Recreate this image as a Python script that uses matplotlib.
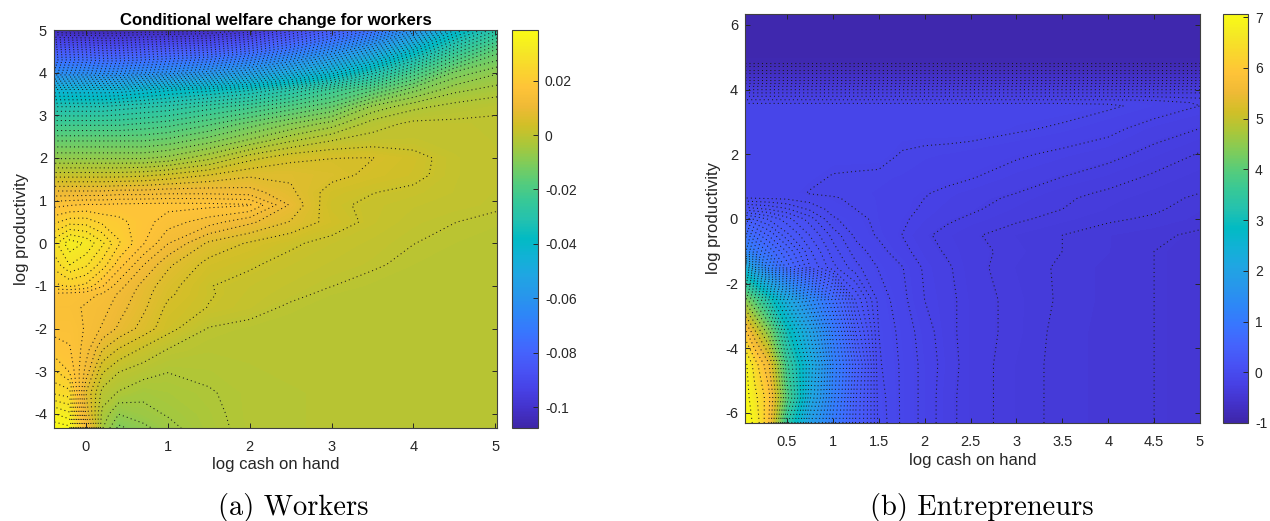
import numpy as np
import matplotlib
matplotlib.use("Agg")
import matplotlib.pyplot as plt
from matplotlib.colors import LinearSegmentedColormap, Normalize
from matplotlib.cm import ScalarMappable

plt.rcParams["font.family"] = ["Liberation Sans", "DejaVu Sans"]
plt.rcParams["axes.unicode_minus"] = False
plt.rcParams["axes.linewidth"] = 0.8

# parula colours
parula_rows = [
    [.2422, .1504, .6603], [.2647, .1978, .7952], [.2783, .2559, .8991], [.2810, .3228, .9579],
    [.2699, .3892, .9906], [.2206, .4603, .9973], [.1786, .5289, .9682], [.1540, .5902, .9218],
    [.1248, .6459, .8883], [.0689, .6948, .8394], [.0067, .7312, .7660], [.1408, .7584, .6842],
    [.2161, .7843, .5923], [.3406, .8008, .4789], [.5044, .7993, .3480], [.6720, .7793, .2227],
    [.8203, .7498, .1535], [.9393, .7288, .2100], [.9970, .7659, .2199], [.9786, .8386, .1766],
    [.9597, .9135, .1423], [.9769, .9839, .0805],
]

# workers panel, values in 1/1000
workers_x = [-0.39, -0.2, 0, 0.2, 0.4, 0.7, 1, 1.5, 2, 2.5, 3, 3.5, 4, 4.5, 5.02]
workers_y = [-4.33, -4, -3.5, -3, -2.5, -2, -1.5, -1.2, -1, -0.5, 0, 0.5, 0.9, 1.2, 1.6, 2, 2.4, 2.8, 3.2, 3.6, 4, 4.5, 5]
workers_z = [
    [38, 37, 14, -5, -10.8, -8.5, -6, -3.6, -2, -1.6, -1.5, -1.5, -1.5, -1.5, -1.5],
    [34, 32, 9, -3.5, -7.6, -6, -5, -3.4, -1.9, -1.6, -1.5, -1.5, -1.5, -1.5, -1.5],
    [26, 25, 7, -1.2, -3, -4.6, -3.9, -3, -1.9, -1.6, -1.5, -1.5, -1.5, -1.5, -1.5],
    [22, 19, 11, 2.5, -0.2, -1.6, -2.7, -2.2, -1.6, -1.5, -1.5, -1.5, -1.5, -1.5, -1.5],
    [18, 17, 13, 7, 4.2, 1.5, -0.5, -1.5, -1.5, -1.5, -1.5, -1.5, -1.5, -1.5, -1.5],
    [16, 16, 14, 11.5, 9, 6, 3, -0.5, -1.2, -1.5, -1.5, -1.5, -1.5, -1.5, -1.5],
    [15, 15, 14, 13, 10.5, 7.5, 4, 2, 0.8, -0.8, -1.5, -1.5, -1.5, -1.5, -1.5],
    [16, 15.5, 15, 14, 11.5, 8, 5, 2.3, 1.1, 0.3, -1, -1.3, -1.5, -1.5, -1.5],
    [21, 22, 21, 17, 13, 8.5, 5.5, 2.2, 1.3, 0.6, -0.3, -1.2, -1.4, -1.5, -1.5],
    [25, 29, 27, 23, 18, 12, 7.5, 3.6, 2.4, 1.3, 0.6, 0, -1, -1.3, -1.5],
    [28, 33, 31, 27, 22, 17, 12, 6.5, 4.2, 2.5, 1.3, 0.5, -0.3, -1, -1.4],
    [21, 23, 23, 21, 20, 17.8, 15.5, 13, 10, 6.8, 3.5, 1.4, 0.3, -0.3, -0.9],
    [16, 16.5, 17, 17, 17.3, 17.5, 17.6, 17.5, 17, 9, 2.7, 1.5, 0.8, 0.4, 0],
    [10, 10, 10, 10, 10.5, 10.5, 11, 11, 10.5, 7.5, 3.4, 2.2, 1.5, 0.7, 0.1],
    [1, 1, 1, 1, 1, 1.5, 2.5, 4.5, 6.5, 6.5, 5.4, 3.9, 2.9, 0.8, 0.2],
    [-8, -8, -8, -8, -8, -8, -7, -3.5, 1.2, 3.8, 4.5, 4.6, 3.2, 0.8, 0.2],
    [-15, -15, -15, -15, -15, -15, -14, -11, -7, -3, -0.3, 0.8, 0.8, 0.5, 0.1],
    [-23, -23, -23, -23, -23, -22, -21, -18, -14, -10, -6.5, -1.5, 0.3, 0.2, 0.1],
    [-32, -32, -32, -32, -31, -30, -29, -26, -23, -19, -15, -7, -3.5, -1.8, -0.8],
    [-44, -44, -44, -44, -44, -42, -40, -38, -35, -30, -24, -18, -11, -6, -4.2],
    [-64, -64, -64, -65, -65, -64, -63, -60, -56, -50, -43, -33, -22, -12, -8],
    [-84, -84, -84, -85, -85, -84, -83, -82, -78, -72, -64, -54, -40, -26, -16],
    [-105, -106, -106, -106, -106, -105, -105, -104, -100, -92, -84, -76, -62, -42, -30],
]
workers_xticks = [0, 1, 2, 3, 4, 5]
workers_yticks = [-4, -3, -2, -1, 0, 1, 2, 3, 4, 5]
workers_cticks = [-0.1, -0.08, -0.06, -0.04, -0.02, 0, 0.02]
workers_clabels = ["-0.1", "-0.08", "-0.06", "-0.04", "-0.02", "0", "0.02"]

# entrepreneurs panel
entre_x = [0.043, 0.15, 0.3, 0.5, 0.75, 1, 1.25, 1.5, 1.75, 2, 2.25, 2.5, 3, 3.5, 4, 4.5, 5]
entre_y = [-6.31, -5.5, -4.5, -3.5, -2.5, -1.5, -1, -0.5, 0, 0.3, 0.65, 0.8, 1.3, 2, 2.8, 3.5, 3.6, 3.9, 4.2, 4.5, 4.85, 5.2, 6.34]
entre_z = [
    [7.05, 6.8, 5.8, 3.4, 1.9, 1.05, .42, 0, -.11, -.18, -.26, -.31, -.37, -.42, -.44, -.46, -.47],
    [7.05, 6.6, 5.9, 3.9, 2.2, 1.15, .44, -.01, -.11, -.18, -.26, -.31, -.37, -.42, -.44, -.46, -.47],
    [7.0, 6.3, 5.5, 3.6, 2.3, 1.2, .5, -.03, -.11, -.18, -.25, -.31, -.37, -.42, -.44, -.46, -.47],
    [5.9, 5.2, 4.4, 3.0, 2.0, 1.05, .35, -.04, -.12, -.19, -.26, -.31, -.36, -.42, -.44, -.46, -.47],
    [4.4, 3.9, 3.1, 2.2, 1.4, .75, .2, -.06, -.14, -.22, -.26, -.31, -.36, -.41, -.44, -.46, -.47],
    [2.4, 1.75, 1.15, .65, .28, .1, -.02, -.105, -.155, -.23, -.27, -.32, -.37, -.41, -.44, -.46, -.47],
    [1.3, 1.0, .75, .5, .22, .05, -.07, -.135, -.2, -.25, -.29, -.32, -.36, -.4, -.43, -.46, -.47],
    [.85, .65, .5, .3, .14, 0, -.115, -.17, -.22, -.27, -.3, -.33, -.37, -.4, -.43, -.45, -.47],
    [.38, .34, .27, .17, .05, -.09, -.135, -.18, -.21, -.24, -.27, -.29, -.33, -.36, -.39, -.41, -.44],
    [.12, .1, .08, .03, -.05, -.125, -.16, -.18, -.2, -.23, -.25, -.27, -.31, -.34, -.37, -.39, -.43],
    [-.1, -.105, -.11, -.115, -.135, -.155, -.17, -.18, -.2, -.22, -.24, -.26, -.29, -.33, -.36, -.38, -.41],
    [-.13, -.13, -.13, -.13, -.165, -.17, -.175, -.18, -.195, -.215, -.235, -.25, -.28, -.32, -.35, -.375, -.4],
    [-.13, -.13, -.13, -.13, -.14, -.165, -.17, -.175, -.18, -.19, -.2, -.215, -.25, -.28, -.31, -.35, -.38],
    [-.13, -.13, -.13, -.13, -.13, -.13, -.13, -.13, -.165, -.175, -.18, -.19, -.21, -.235, -.26, -.3, -.345],
    [-.13, -.13, -.13, -.13, -.13, -.13, -.13, -.13, -.13, -.13, -.13, -.13, -.15, -.17, -.2, -.25, -.28],
    [-.13, -.13, -.13, -.13, -.13, -.13, -.13, -.13, -.13, -.13, -.13, -.13, -.13, -.13, -.15, -.18, -.22],
    [-.17, -.17, -.17, -.17, -.17, -.17, -.17, -.17, -.17, -.17, -.17, -.17, -.17, -.17, -.17, -.185, -.23],
    [-.34, -.34, -.34, -.34, -.34, -.34, -.34, -.34, -.34, -.34, -.34, -.34, -.34, -.34, -.34, -.34, -.34],
    [-.52, -.52, -.52, -.52, -.52, -.52, -.52, -.52, -.52, -.52, -.52, -.52, -.52, -.52, -.52, -.52, -.52],
    [-.7, -.7, -.7, -.7, -.7, -.7, -.7, -.7, -.7, -.7, -.7, -.7, -.7, -.7, -.7, -.7, -.7],
    [-.89, -.89, -.89, -.89, -.89, -.89, -.89, -.89, -.89, -.89, -.89, -.89, -.89, -.89, -.89, -.89, -.89],
    [-.93, -.93, -.93, -.93, -.93, -.93, -.93, -.93, -.93, -.93, -.93, -.93, -.93, -.93, -.93, -.93, -.93],
    [-.93, -.93, -.93, -.93, -.93, -.93, -.93, -.93, -.93, -.93, -.93, -.93, -.93, -.93, -.93, -.93, -.93],
]
entre_xticks = [0.5, 1, 1.5, 2, 2.5, 3, 3.5, 4, 4.5, 5]
entre_xlabels = ["0.5", "1", "1.5", "2", "2.5", "3", "3.5", "4", "4.5", "5"]
entre_yticks = [-6, -4, -2, 0, 2, 4, 6]
entre_cticks = [-1, 0, 1, 2, 3, 4, 5, 6, 7]

W, H = 1270, 521
parula = LinearSegmentedColormap.from_list("parula", parula_rows, N=256)


def box(left, top, right, bottom):
    # pixel box to figure fractions
    return [left / W, 1 - bottom / H, (right - left) / W, (bottom - top) / H]


def panel(pos, cpos, x, y, z, vmin, vmax, line_levels):
    ax = fig.add_axes(box(*pos))
    fill_levels = np.linspace(vmin, vmax, 256)
    ax.contourf(x, y, z, levels=fill_levels, cmap=parula, vmin=vmin, vmax=vmax, antialiased=False)
    ax.contour(x, y, z, levels=line_levels, colors="#1a1a1a", linewidths=0.75, linestyles=[(0, (1, 3))])
    ax.tick_params(direction="in", top=True, right=True, length=3.5, width=0.7,
                   labelsize=10.5, colors="#262626", pad=5)
    ax.tick_params(axis="x", pad=8.6)
    for s in ax.spines.values():
        s.set_color("#404040")
    cax = fig.add_axes(box(*cpos))
    cb = fig.colorbar(ScalarMappable(Normalize(vmin, vmax), parula), cax=cax)
    cb.outline.set_edgecolor("#404040")
    cb.outline.set_linewidth(0.8)
    cax.tick_params(direction="in", length=3.5, width=0.7, labelsize=10, colors="#262626", pad=5)
    return ax, cb


fig = plt.figure(figsize=(W / 100, H / 100), dpi=100)

ax1, cb1 = panel((54, 30, 497, 428), (512, 30, 538, 428), workers_x, workers_y,
                 np.array(workers_z) / 1000, -0.1077, 0.0386, np.arange(-0.1077, 0.0386, 0.00244))
ax1.set_xlim(-0.39, 5.02)
ax1.set_ylim(-4.33, 5.0)
ax1.set_xticks(workers_xticks)
ax1.set_yticks(workers_yticks)
ax1.set_xlabel("log cash on hand", fontsize=12, color="#262626", labelpad=2.5)
ax1.set_ylabel("log productivity", fontsize=12, color="#262626", labelpad=3.5)
ax1.set_title("Conditional welfare change for workers", fontsize=12.1, fontweight="bold", pad=3.5)
cb1.set_ticks(workers_cticks, labels=workers_clabels)

# levels get wider apart towards the high values
entre_levels = list(np.arange(-1.0, 0.1, 0.06))
while entre_levels[-1] < 7.0:
    entre_levels.append(entre_levels[-1] + 0.06 * 1.05 ** (len(entre_levels) - 18))

ax2, cb2 = panel((745, 14, 1200, 423), (1223, 14, 1248, 423), entre_x, entre_y,
                 np.array(entre_z), -1.0, 7.06, entre_levels)
ax2.set_xlim(0.043, 5.0)
ax2.set_ylim(-6.31, 6.34)
ax2.set_xticks(entre_xticks, labels=entre_xlabels)
ax2.set_yticks(entre_yticks)
ax2.set_xlabel("log cash on hand", fontsize=12, color="#262626", labelpad=3)
ax2.set_ylabel("log productivity", fontsize=12, color="#262626", labelpad=3)
cb2.set_ticks(entre_cticks)

fig.text(293 / W, 1 - 507 / H, "(a) Workers", family="cmr10", fontsize=20.5, ha="center", va="center")
fig.text(982 / W, 1 - 507 / H, "(b) Entrepreneurs", family="cmr10", fontsize=20.5, ha="center", va="center")

fig.savefig("out.png", dpi=100)
